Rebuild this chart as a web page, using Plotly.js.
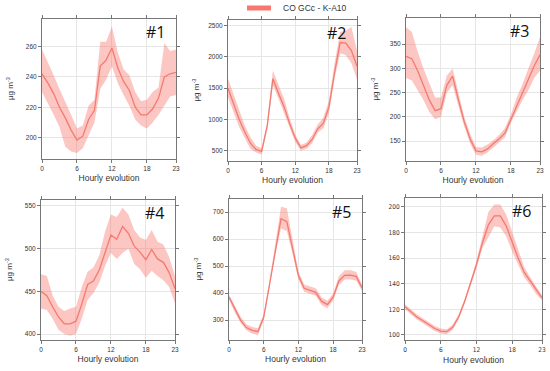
<!DOCTYPE html>
<html><head><meta charset="utf-8">
<script src="https://cdn.plot.ly/plotly-3.0.1.min.js"></script>
<style>html,body{margin:0;padding:0;background:#fff}#c{width:550px;height:371px}</style>
</head><body><div id="c"></div>
<script>
const hours = [0,1,2,3,4,5,6,7,8,9,10,11,12,13,14,15,16,17,18,19,20,21,22,23];
const seriesName = "CO GCc - K-A10";
const panelLabels = ["#1","#2","#3","#4","#5","#6"];
const xTitle = "Hourly evolution";
const yTitle = "μg m<sup>-3</sup>";
const xTicks = [0,6,12,18,23];

const mean1 = [242,236,229,220,213,205,198.5,201,212,218,247,251,259,246,237,231,220,215,215,219,226,240,242,243];
const upper1 = [258,250,241,232,224,215,206,208,221,225,263,263,273,256,245,241,230,224,225,230,233,262,257,258];
const lower1 = [230,223,215,207,194,191,190,193,202,210,232,238,247,236,228,221,212,208,206,210,215,221,227,228];

const mean2 = [1500,1250,1000,800,620,520,490,900,1650,1420,1200,930,700,545,580,680,850,940,1200,1750,2230,2220,2100,1850];
const upper2 = [1650,1400,1120,900,720,580,540,960,1780,1550,1330,1020,760,590,630,750,920,1030,1300,1900,2400,2420,2480,2100];
const lower2 = [1350,1100,880,700,530,470,440,840,1550,1330,1100,860,640,500,530,620,790,860,1100,1650,2060,2030,1900,1640];

const mean3 = [325,320,295,265,235,213,217,265,284,235,190,155,130,128,134,145,155,167,195,225,252,280,305,328];
const upper3 = [385,375,335,300,270,240,240,285,300,250,200,165,138,137,143,152,163,177,205,240,268,300,330,365];
const lower3 = [280,275,255,235,210,195,200,250,265,220,180,145,122,120,127,137,147,158,188,213,235,255,280,295];

const mean4 = [450,445,432,420,412,412,415,435,458,462,475,497,516,511,526,518,503,496,487,499,488,484,472,453];
const upper4 = [470,468,445,432,427,430,432,455,473,478,492,520,540,537,548,540,522,513,510,522,508,505,490,468];
const lower4 = [430,428,418,405,400,398,400,418,440,448,460,480,495,488,495,500,482,476,466,474,468,463,455,436];

const mean5 = [385,340,300,272,262,257,310,430,560,676,665,570,465,418,410,403,370,357,385,445,466,467,462,420];
const upper5 = [395,352,312,284,274,270,322,445,578,720,715,600,480,432,425,418,385,372,398,462,485,485,478,432];
const lower5 = [375,328,290,262,250,244,300,415,545,640,630,545,450,405,397,390,356,344,372,430,450,450,447,408];

const mean6 = [122,118,114,111,108,105,103,102.5,106,114,126,140,155,172,186,193,193,185,172,160,149,142,135,129];
const upper6 = [124,120,116,113,110,107,105,104.5,108,116,128,142,158,176,196,202,202,194,180,166,153,145,138,131];
const lower6 = [120,116,112,109,106,103,101,100.5,104,112,124,138,152,168,177,185,184,177,165,155,145,139,132,127];

const yTicks1 = [200,220,240,260];
const yTicks2 = [500,1000,1500,2000,2500];
const yTicks3 = [150,200,250,300,350];
const yTicks4 = [400,450,500,550];
const yTicks5 = [300,400,500,600,700];
const yTicks6 = [100,120,140,160,180,200];

const means = [mean1,mean2,mean3,mean4,mean5,mean6];
const uppers = [upper1,upper2,upper3,upper4,upper5,upper6];
const lowers = [lower1,lower2,lower3,lower4,lower5,lower6];
const yTickSets = [yTicks1,yTicks2,yTicks3,yTicks4,yTicks5,yTicks6];

// layout (pixels)
const W = 550, H = 371;
const boxes = [
  {x0:42,x1:176,y0:19,y1:159, yr:[186,278], ytitle:true},
  {x0:228,x1:357,y0:20,y1:161, yr:[335,2590], ytitle:true},
  {x0:406,x1:540,y0:18,y1:161, yr:[109,404], ytitle:true},
  {x0:41,x1:175,y0:200,y1:340, yr:[393,557], ytitle:true},
  {x0:229,x1:362,y0:199,y1:340, yr:[226,749], ytitle:true},
  {x0:405,x1:542,y0:198,y1:340, yr:[96,207], ytitle:false, narrow:true}
];
const lineColor = '#F47A70';
const bandColor = 'rgba(248,118,109,0.42)';

const traces = [];
const layout = {
  width: W, height: H, margin:{l:0,r:0,t:0,b:0},
  paper_bgcolor:'#fff', plot_bgcolor:'#fff', showlegend:false,
  font:{family:'Liberation Sans, Arial, sans-serif', color:'#333'},
  annotations:[], shapes:[]
};

boxes.forEach((b,i)=>{
  const n = i+1;
  const xa = 'x'+(n===1?'':n), ya = 'y'+(n===1?'':n);
  traces.push({x:hours, y:lowers[i], xaxis:xa, yaxis:ya, mode:'lines', line:{width:0, color:bandColor}, hoverinfo:'skip'});
  traces.push({x:hours, y:uppers[i], xaxis:xa, yaxis:ya, mode:'lines', fill:'tonexty', fillcolor:bandColor, line:{width:0, color:bandColor}, hoverinfo:'skip'});
  traces.push({x:hours, y:means[i], xaxis:xa, yaxis:ya, mode:'lines', line:{width:1.3, color:lineColor}});
  const axCommon = {showline:true, linecolor:'#777', linewidth:1, mirror:'ticks', ticks:'outside', ticklen:3, tickcolor:'#777',
    showgrid:true, gridcolor:'#e6e6e6', gridwidth:1, zeroline:false,
    tickfont:{size:6.5, color:'#333', family: b.narrow ? 'Liberation Sans Narrow, DejaVu Sans Condensed, sans-serif' : 'Liberation Sans, Arial, sans-serif'}};
  layout['xaxis'+(n===1?'':n)] = Object.assign({}, axCommon, {
    domain:[b.x0/W, b.x1/W], anchor:ya, range:[0,23], tickvals:xTicks, ticktext:xTicks.map(String),
    title:{text:xTitle, font:{size:8.5, color:'#333'}, standoff:4}
  });
  layout['yaxis'+(n===1?'':n)] = Object.assign({}, axCommon, {
    domain:[1-b.y1/H, 1-b.y0/H], anchor:xa, range:b.yr, tickvals:yTickSets[i], ticktext:yTickSets[i].map(String)
  });
  if (b.ytitle) {
    layout.annotations.push({xref:'paper', yref:'paper', x:(b.x0-32)/W, y:1-((b.y0+b.y1)/2)/H, xanchor:'center', yanchor:'middle',
      textangle:-90, text:yTitle, showarrow:false, font:{size:8, color:'#333'}});
  }
  layout.annotations.push({xref:'paper', yref:'paper', x:(b.x1-21)/W, y:1-(b.y0+13)/H, xanchor:'center', yanchor:'middle',
    text:panelLabels[i], showarrow:false, font:{size:16, color:'#111', family:'Open Sans, Liberation Sans, sans-serif'}});
});

// legend
layout.shapes.push({type:'rect', xref:'paper', yref:'paper', x0:247/W, x1:271/W, y0:1-10.5/H, y1:1-5.5/H, fillcolor:'#F8766D', line:{width:0}});
layout.annotations.push({xref:'paper', yref:'paper', x:281/W, y:1-8/H, xanchor:'left', yanchor:'middle', text:seriesName, showarrow:false,
  font:{size:8.5, color:'#333'}});

Plotly.newPlot('c', traces, layout, {displayModeBar:false, staticPlot:true});
</script></body></html>
